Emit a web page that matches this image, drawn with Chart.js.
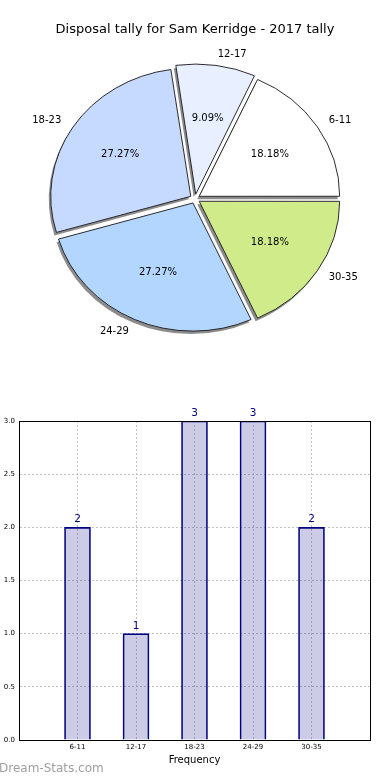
<!DOCTYPE html>
<html>
<head>
<meta charset="utf-8">
<script src="https://cdn.jsdelivr.net/npm/chart.js@4.4.1/dist/chart.umd.min.js"></script>
<style>
  html, body { margin: 0; padding: 0; background: #fff; }
  body { width: 390px; height: 780px; position: relative; overflow: hidden; }
  #pie { position: absolute; left: 0; top: 0; }
  #bars { position: absolute; left: 0; top: 380px; }
  #mark { position: absolute; left: -1px; top: 761px; font: 12px "DejaVu Sans", sans-serif; color: #a0a0a0; }
</style>
</head>
<body>
<canvas id="pie" width="390" height="380"></canvas>
<canvas id="bars" width="390" height="400"></canvas>
<div id="mark">Dream-Stats.com</div>
<script>
// data
const categories = ['6-11', '12-17', '18-23', '24-29', '30-35'];
const counts = [2, 1, 3, 3, 2];
const sliceColors = ['#ffffff', '#e8f0ff', '#c6d9ff', '#b3d6ff', '#d0ec8a'];
const yTicks = [0, 0.5, 1, 1.5, 2, 2.5, 3];

const FONT = '"DejaVu Sans", sans-serif';
const SQUASH = 0.915;   // pie is drawn a bit flatter than a circle
const EXPLODE = 20;     // chart.js moves a slice by offset / 4
const total = counts.reduce((a, b) => a + b, 0);

// chart.js goes clockwise, the original counter-clockwise from 3 o'clock
const pieLabels = categories.slice().reverse();
const pieValues = counts.slice().reverse();
const pieColors = sliceColors.slice().reverse();

let plainStroke = null;

const pieLook = {
  id: 'pieLook',
  beforeDatasetsDraw(chart) {
    const arc = chart.getDatasetMeta(0).data[0];
    const ctx = chart.ctx;
    ctx.save();
    ctx.translate(arc.x, arc.y);
    ctx.scale(1, SQUASH);
    ctx.translate(-arc.x, -arc.y);
    ctx.shadowColor = 'rgba(0,0,0,0.45)';
    ctx.shadowOffsetX = -2;
    ctx.shadowOffsetY = 3;
    ctx.shadowBlur = 0;
    // shadow only under the fill, not the outline
    plainStroke = ctx.stroke;
    ctx.stroke = function (...args) {
      const c = this.shadowColor;
      this.shadowColor = 'rgba(0,0,0,0)';
      plainStroke.apply(this, args);
      this.shadowColor = c;
    };
  },
  afterDatasetsDraw(chart) {
    const ctx = chart.ctx;
    ctx.stroke = plainStroke;
    delete ctx.stroke;
    ctx.restore();
    const meta = chart.getDatasetMeta(0);
    ctx.save();
    ctx.font = '10px ' + FONT;
    ctx.fillStyle = '#000';
    ctx.textBaseline = 'middle';
    meta.data.forEach((arc, i) => {
      const p = arc.getProps(['x', 'y', 'startAngle', 'endAngle', 'outerRadius'], true);
      const mid = (p.startAngle + p.endAngle) / 2;
      const shift = EXPLODE / 4;
      const cx = Math.cos(mid), cy = Math.sin(mid);
      // category outside
      const lr = p.outerRadius * 1.1 + shift;
      ctx.textAlign = cx > 0 ? 'left' : 'right';
      ctx.fillText(pieLabels[i], p.x + cx * lr, p.y + cy * lr * SQUASH);
      // percentage inside
      const pr = p.outerRadius * 0.6 + shift;
      ctx.textAlign = 'center';
      const pct = (pieValues[i] / total * 100).toFixed(2) + '%';
      ctx.fillText(pct, p.x + cx * pr, p.y + cy * pr * SQUASH);
    });
    ctx.restore();
  }
};

new Chart(document.getElementById('pie'), {
  type: 'pie',
  data: {
    labels: pieLabels,
    datasets: [{
      data: pieValues,
      backgroundColor: pieColors,
      borderColor: '#222',
      borderWidth: 1,
      offset: EXPLODE,
      clip: false
    }]
  },
  options: {
    responsive: false,
    animation: false,
    rotation: 90,
    radius: 140,
    layout: { padding: { bottom: 32 } },
    plugins: {
      legend: { display: false },
      tooltip: { enabled: false },
      title: {
        display: true,
        text: 'Disposal tally for Sam Kerridge - 2017 tally',
        color: '#000',
        font: { family: FONT, size: 13, weight: 'normal' },
        padding: { top: 22, bottom: 12 }
      }
    }
  },
  plugins: [pieLook]
});

const barExtras = {
  id: 'barExtras',
  afterDatasetsDraw(chart) {
    const ctx = chart.ctx;
    const a = chart.chartArea;
    ctx.save();
    ctx.strokeStyle = '#000';
    ctx.lineWidth = 1;
    ctx.strokeRect(Math.round(a.left) + 0.5, Math.round(a.top) + 0.5,
      Math.round(a.right - a.left), Math.round(a.bottom - a.top));
    ctx.font = '10.5px ' + FONT;
    ctx.fillStyle = '#000080';
    ctx.textAlign = 'center';
    ctx.textBaseline = 'alphabetic';
    chart.getDatasetMeta(0).data.forEach((bar, i) => {
      ctx.fillText(String(counts[i]), bar.x, bar.y - 5);
    });
    ctx.restore();
  }
};

new Chart(document.getElementById('bars'), {
  type: 'bar',
  data: {
    datasets: [{
      data: categories.map((c, i) => ({ x: i, y: counts[i] })),
      backgroundColor: 'rgba(0,0,128,0.2)',
      borderColor: '#000080',
      borderWidth: 1,
      barThickness: 26
    }]
  },
  options: {
    responsive: false,
    animation: false,
    layout: { padding: { top: 41, right: 20, left: 0, bottom: 0 } },
    plugins: { legend: { display: false }, tooltip: { enabled: false } },
    scales: {
      x: {
        type: 'linear',
        min: -1,
        max: categories.length,
        offset: false,
        afterFit: s => { s.height = 40; },
        ticks: {
          stepSize: 1,
          autoSkip: false,
          maxRotation: 0,
          padding: 3,
          color: '#000',
          font: { family: FONT, size: 7 },
          callback: v => categories[v] ?? ''
        },
        grid: { color: '#c4c4c4', drawTicks: false, offset: false },
        border: { display: true, color: '#000', dash: [2, 2] },
        title: {
          display: true,
          text: 'Frequency',
          color: '#000',
          font: { family: FONT, size: 10 },
          padding: { top: 0, bottom: 14 }
        }
      },
      y: {
        min: yTicks[0],
        max: yTicks[yTicks.length - 1],
        afterFit: s => { s.width = 19; },
        afterBuildTicks: s => { s.ticks = yTicks.map(v => ({ value: v })); },
        ticks: {
          padding: 4,
          color: '#000',
          font: { family: FONT, size: 7 },
          callback: v => Number(v).toFixed(1)
        },
        grid: { color: '#c4c4c4', drawTicks: false },
        border: { display: true, color: '#000', dash: [2, 2] }
      }
    }
  },
  plugins: [barExtras]
});
</script>
</body>
</html>
